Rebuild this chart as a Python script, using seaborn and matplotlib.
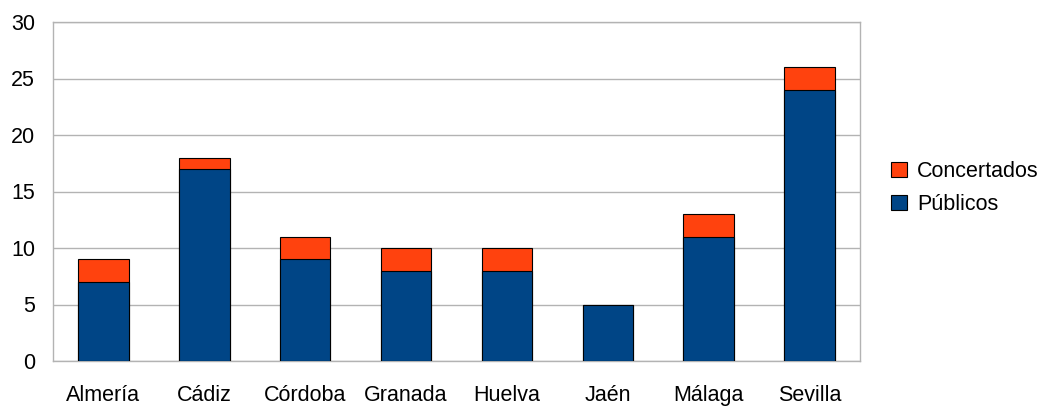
#%%
'''PACKAGE IMPORTS'''
import pandas as pd
import matplotlib.pyplot as plt
import seaborn as sns
from matplotlib.patches import Patch

#%%
'''Data'''
provincias = ['Almería', 'Cádiz', 'Córdoba', 'Granada', 'Huelva', 'Jaén', 'Málaga', 'Sevilla']
publicos = [7, 17, 9, 8, 8, 5, 11, 24]
concertados = [2, 1, 2, 2, 2, 0, 2, 2]

df = pd.DataFrame({'provincia': provincias,
                   'publicos': publicos,
                   'concertados': concertados})
df['total'] = df['publicos'] + df['concertados']

colPub = '#004586'
colCon = '#ff420e'
gridCol = '#b3b3b3'
fs = 15.5

#%%
sns.set_style('white')
plt.rcParams['font.family'] = ['Liberation Sans', 'DejaVu Sans']
plt.rcParams['text.color'] = 'black'
plt.rcParams['xtick.labelcolor'] = 'black'
plt.rcParams['ytick.labelcolor'] = 'black'

fig = plt.figure(figsize = (10.42, 4.07), dpi = 100)
ax = fig.add_axes([53/1042, 1 - 361/407, (860 - 53)/1042, (361 - 22)/407])

#Stacked bars: total first (orange), then publicos over it
sns.barplot(data = df, x = 'provincia', y = 'total', color = colCon,
            saturation = 1, width = 0.5, edgecolor = 'black',
            linewidth = 0.8, ax = ax, zorder = 3)
sns.barplot(data = df, x = 'provincia', y = 'publicos', color = colPub,
            saturation = 1, width = 0.5, edgecolor = 'black',
            linewidth = 0.8, ax = ax, zorder = 3)

#Figure Specifications
ax.set_xlim(-0.5, len(provincias) - 0.5)
ax.set_ylim(0, 30)
ax.set_yticks(range(0, 31, 5))
ax.yaxis.grid(True, color = gridCol, linewidth = 1)
ax.set_axisbelow(True)
ax.set_xlabel('')
ax.set_ylabel('')
for s in ax.spines.values():
    s.set_color(gridCol)
    s.set_linewidth(1)

ax.set_xticks([i - 0.5 for i in range(len(provincias) + 1)], minor = True)
ax.tick_params(axis = 'x', which = 'major', length = 0, pad = 17, labelsize = fs)
ax.tick_params(axis = 'x', which = 'minor', length = 11, color = gridCol, width = 1)
ax.tick_params(axis = 'y', length = 10, color = gridCol, width = 1, pad = 3, labelsize = fs)

handles = [Patch(facecolor = colCon, edgecolor = 'black', linewidth = 0.8),
           Patch(facecolor = colPub, edgecolor = 'black', linewidth = 0.8)]
fig.legend(handles, ['Concertados', 'Públicos'],
           loc = 'center left', bbox_to_anchor = (891/1042, 1 - 188/407),
           frameon = False, fontsize = fs, handlelength = 0.75,
           handleheight = 0.75, handletextpad = 0.45, labelspacing = 0.55,
           borderpad = 0, borderaxespad = 0)

plt.savefig('out.png', dpi = 100)
